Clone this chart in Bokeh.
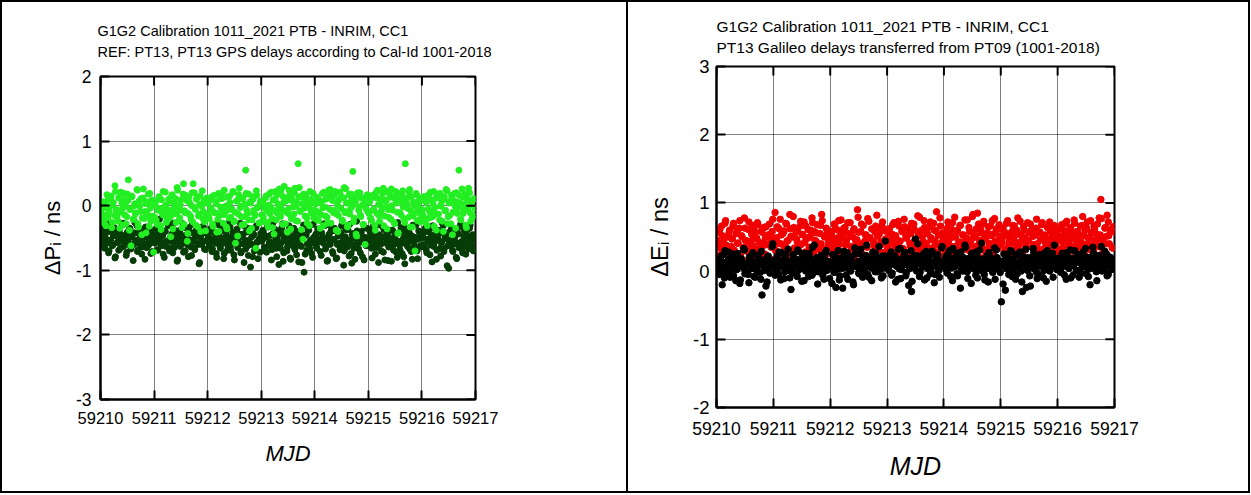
from bokeh.plotting import figure
from bokeh.layouts import row, column
from bokeh.models import (ColumnDataSource, Range1d, FixedTicker,
                          PrintfTickFormatter, Title)
from bokeh.embed import file_html
from bokeh.resources import INLINE

# ---------------- data ----------------
MJD_DAYS = [59210, 59211, 59212, 59213, 59214, 59215, 59216]
TRACK_TIMES_A = [0.01, 0.03, 0.06, 0.08, 0.10, 0.13, 0.15, 0.17, 0.20, 0.22,
                 0.24, 0.27, 0.29, 0.31, 0.34, 0.36, 0.38, 0.41, 0.43, 0.45,
                 0.48, 0.50, 0.52, 0.55, 0.57, 0.59, 0.62, 0.64, 0.66, 0.69,
                 0.71, 0.73, 0.76, 0.78, 0.80, 0.83, 0.85, 0.87, 0.90, 0.92,
                 0.94, 0.97, 0.99]
TRACK_TIMES_B = [0.02, 0.04, 0.07, 0.09, 0.12, 0.14, 0.16, 0.19, 0.21, 0.23,
                 0.26, 0.28, 0.30, 0.33, 0.35, 0.37, 0.40, 0.42, 0.44, 0.47,
                 0.49, 0.51, 0.54, 0.56, 0.58, 0.61, 0.63, 0.65, 0.68, 0.70,
                 0.72, 0.75, 0.77, 0.79, 0.82, 0.84, 0.86, 0.89, 0.91, 0.93,
                 0.96, 0.98]
MJD_TICKS = [59210, 59211, 59212, 59213, 59214, 59215, 59216, 59217]
P_TICKS = [-3, -2, -1, 0, 1, 2]
E_TICKS = [-2, -1, 0, 1, 2, 3]

# left panel: light green series (tracks A and B)
dP_light_a = [
    -0.05, -0.22, 0.02, -0.15, -0.31, 0.08, -0.12, -0.02, 0.15, -0.26, 0.05, 0.31, -0.08, -0.18, 0.12, -0.35, 0.21, -0.04, 0.09, -0.14, -0.28, 0.18, 0.40, -0.06, -0.62, 0.14, -0.21, 0.03, -0.11, 0.24, -0.33, -0.01, 0.11, -0.19, 0.26, -0.09, -0.42, 0.06, -0.16, 0.19, -0.24, 0.01, -0.72,
    -0.18, 0.07, -0.29, -0.04, 0.13, -0.37, -0.10, 0.22, -0.15, 0.01, -0.23, 0.10, -0.07, -0.48, 0.17, -0.13, 0.04, -0.26, 0.28, -0.02, -0.19, 0.09, -0.34, 0.34, -0.08, 0.16, -0.55, -0.12, 0.05, -0.21, 0.20, 0.34, -0.03, -0.30, 0.12, -0.16, 0.02, -0.40, 0.23, -0.09, -0.25, 0.08, -0.14,
    0.03, -0.20, -0.06, 0.14, -0.32, -0.11, 0.06, -0.41, 0.19, -0.15, -0.02, 0.11, -0.27, 0.24, -0.09, -0.36, 0.01, 0.15, -0.18, -0.05, 0.21, -0.24, -0.58, 0.08, -0.13, 0.27, -0.01, -0.30, 0.12, -0.17, 0.55, -0.07, 0.18, -0.39, 0.04, -0.22, 0.10, -0.12, -0.66, 0.16, -0.03, -0.26, 0.07,
    -0.14, 0.05, -0.25, 0.12, -0.08, -0.33, 0.18, -0.01, -0.20, 0.09, -0.44, 0.22, -0.11, 0.03, 0.26, -0.17, -0.05, 0.14, 0.30, -0.28, 0.08, -0.12, 0.24, -0.36, 0.11, -0.02, 0.20, -0.23, 0.06, 0.65, 0.28, -0.09, 0.13, -0.52, -0.04, 0.17, -0.19, 0.01, -0.31, 0.10, -0.07, 0.19, -0.15,
    0.02, -0.21, 0.11, -0.10, -0.35, 0.07, -0.03, 0.21, -0.16, 0.13, -0.27, 0.16, 0.25, 0.15, 0.18, -0.07, 0.22, -0.13, -0.40, 0.09, -0.04, 0.14, -0.24, 0.28, -0.11, 0.04, -0.30, 0.17, -0.06, 0.10, 0.53, -0.19, 0.06, -0.47, 0.20, -0.02, -0.14, 0.12, -0.29, 0.03, -0.60, 0.15, -0.09,
    -0.12, 0.08, -0.23, 0.16, -0.05, -0.38, 0.12, 0.24, -0.15, 0.03, -0.09, 0.19, -0.31, 0.09, -0.02, 0.22, -0.18, 0.13, 0.26, -0.07, -0.26, 0.11, 0.04, -0.43, 0.18, -0.11, 0.06, 0.23, -0.20, 0.65, 0.10, -0.04, 0.21, -0.33, 0.14, -0.16, 0.00, -0.70, 0.17, -0.08, 0.07, -0.25, 0.12,
    -0.06, 0.14, -0.20, 0.05, -0.31, 0.17, -0.10, 0.09, -0.17, 0.22, -0.03, -0.38, 0.12, -0.13, 0.19, 0.02, -0.24, 0.10, -0.08, 0.25, -0.28, 0.06, -0.15, 0.16, -0.45, 0.08, -0.01, 0.20, -0.12, 0.55, 0.04, -0.22, 0.13, -0.06, 0.18, -0.34, 0.09, 0.27, -0.11, 0.01, -0.19, 0.11, -0.04,
]
dP_light_b = [
    -0.12, 0.06, -0.27, -0.03, 0.17, -0.19, -0.08, 0.10, -0.34, 0.01, -0.15, 0.22, -0.06, -0.24, 0.13, -0.10, 0.04, -0.30, 0.19, -0.01, -0.17, 0.08, -0.38, -0.05, 0.15, -0.21, 0.00, -0.13, 0.25, -0.28, 0.07, -0.09, -0.45, 0.12, -0.20, 0.03, -0.11, 0.18, -0.32, -0.04, 0.09, -0.16,
    0.04, -0.22, -0.07, 0.14, -0.31, 0.09, -0.14, -0.02, 0.21, -0.26, -0.09, 0.06, -0.18, 0.16, -0.36, -0.04, 0.11, -0.12, 0.24, -0.23, 0.02, -0.07, 0.18, -0.29, -0.11, 0.08, -0.43, 0.13, -0.16, 0.00, -0.25, 0.20, -0.06, 0.10, -0.33, -0.13, 0.15, -0.01, -0.20, 0.07, -0.39, 0.12,
    -0.16, 0.09, -0.05, -0.28, 0.16, -0.11, 0.03, -0.21, -0.40, 0.11, -0.08, 0.20, -0.14, -0.01, -0.33, 0.13, -0.19, 0.05, -0.06, 0.22, -0.25, -0.10, 0.07, -0.47, 0.17, -0.03, -0.17, 0.10, -0.29, 0.02, 0.19, -0.12, -0.22, 0.06, -0.35, 0.14, -0.07, -0.15, 0.23, -0.02, -0.27, 0.04,
    0.07, -0.18, -0.04, 0.15, -0.26, 0.01, -0.12, 0.21, -0.34, -0.07, 0.10, -0.22, 0.17, -0.02, -0.15, 0.23, -0.29, 0.05, -0.09, 0.12, -0.41, -0.05, 0.19, -0.20, 0.08, -0.13, 0.27, -0.01, -0.24, 0.14, -0.08, -0.37, 0.03, 0.18, -0.16, 0.09, -0.27, -0.03, 0.22, -0.11, 0.06, -0.19,
    -0.08, 0.13, -0.23, 0.05, -0.14, 0.19, -0.31, -0.02, 0.10, -0.18, 0.24, -0.06, -0.27, 0.08, -0.11, 0.16, -0.38, 0.02, -0.15, 0.21, -0.04, -0.22, 0.12, -0.09, 0.26, -0.33, 0.04, -0.13, 0.18, -0.01, -0.25, 0.09, -0.44, 0.14, -0.07, 0.20, -0.17, 0.01, -0.29, 0.11, -0.05, 0.17,
    0.05, -0.19, 0.14, -0.07, -0.30, 0.20, -0.12, 0.02, -0.24, 0.11, -0.03, 0.27, -0.16, 0.07, -0.36, -0.06, 0.17, -0.21, 0.00, 0.13, -0.28, 0.22, -0.10, -0.42, 0.09, -0.14, 0.16, -0.02, -0.26, 0.12, 0.03, -0.18, 0.25, -0.08, -0.33, 0.06, -0.12, 0.19, -0.23, 0.01, 0.10, -0.15,
    -0.14, 0.08, -0.26, 0.15, -0.05, -0.19, 0.21, -0.09, 0.03, -0.32, 0.12, -0.13, 0.18, -0.22, -0.01, 0.09, -0.40, 0.14, -0.07, 0.23, -0.17, 0.04, -0.28, 0.11, -0.10, 0.19, -0.35, 0.06, -0.03, 0.16, -0.21, 0.26, -0.12, 0.02, -0.30, 0.13, -0.06, 0.20, -0.24, 0.07, -0.15, 0.10,
]
# left panel: dark green series (tracks A and B)
dP_dark_a = [
    -0.45, -0.58, -0.32, -0.66, -0.51, -0.40, -0.73, -0.55, -0.28, -0.62, -0.47, -0.81, -0.38, -0.57, -0.69, -0.44, -0.52, -0.30, -0.63, -0.49, -0.77, -0.41, -0.56, -0.35, -0.67, -0.48, -0.60, -0.26, -0.54, -0.71, -0.43, -0.59, -0.37, -0.64, -0.50, -0.83, -0.46, -0.33, -0.61, -0.53, -0.74, -0.42, -0.57,
    -0.52, -0.36, -0.68, -0.47, -0.21, -0.59, -0.44, -0.75, -0.39, -0.63, -0.55, -0.31, -0.70, -0.48, -0.57, -0.27, -0.65, -0.43, -0.86, -0.53, -0.38, -0.61, -0.46, -0.72, -0.34, -0.58, -0.50, -0.79, -0.41, -0.64, -0.29, -0.55, -0.68, -0.45, -0.37, -0.60, -0.88, -0.49, -0.56, -0.33, -0.67, -0.42, -0.54,
    -0.48, -0.62, -0.35, -0.71, -0.53, -0.42, -0.58, -0.80, -0.45, -0.30, -0.66, -0.51, -0.39, -0.74, -0.56, -0.47, -0.63, -0.25, -0.69, -0.52, -0.41, -0.84, -0.57, -0.36, -0.61, -0.49, -0.73, -0.44, -0.59, -0.32, -0.67, -0.54, -0.77, -0.40, -0.95, -0.60, -0.46, -0.70, -0.34, -0.57, -0.82, -0.50, -0.43,
    -0.55, -0.38, -0.64, -0.49, -0.72, -0.33, -0.58, -0.46, -0.68, -0.27, -0.61, -0.52, -0.79, -0.41, -0.57, -0.66, -0.35, -0.86, -0.50, -0.44, -0.70, -0.59, -0.31, -0.83, -0.54, -0.47, -0.65, -0.39, -0.76, -0.56, -0.43, -0.62, -0.88, -0.51, -1.03, -0.45, -0.69, -0.36, -0.60, -0.53, -0.74, -0.29, -0.58,
    -0.47, -0.63, -0.36, -0.56, -0.71, -0.42, -0.53, -0.28, -0.67, -0.50, -0.85, -0.44, -0.60, -0.34, -0.74, -0.52, -0.39, -0.81, -0.58, -0.46, -0.65, -0.31, -0.55, -0.70, -0.48, -0.62, -0.37, -0.78, -0.54, -0.89, -0.43, -0.66, -0.51, -0.24, -0.59, -0.45, -0.73, -0.40, -0.57, -0.84, -0.49, -0.35, -0.61,
    -0.52, -0.40, -0.66, -0.33, -0.59, -0.75, -0.45, -0.61, -0.29, -0.54, -0.70, -0.48, -0.37, -0.84, -0.57, -0.43, -0.64, -0.51, -0.86, -0.38, -0.60, -0.47, -0.72, -0.26, -0.55, -0.68, -0.41, -0.58, -0.79, -0.46, -0.35, -0.63, -0.53, -0.44, -0.71, -0.30, -0.57, -0.65, -0.49, -0.82, -0.39, -0.62, -0.50,
    -0.44, -0.60, -0.35, -0.68, -0.52, -0.41, -0.76, -0.49, -0.31, -0.63, -0.55, -0.83, -0.46, -0.38, -0.66, -0.57, -0.27, -0.71, -0.50, -0.43, -0.62, -0.97, -0.54, -0.36, -0.69, -0.48, -0.59, -0.80, -0.42, -0.65, -0.33, -0.56, -0.73, -0.47, -0.61, -0.39, -0.52, -0.67, -0.30, -0.58, -0.45, -0.64, -0.51,
]
dP_dark_b = [
    -0.50, -0.37, -0.64, -0.44, -0.58, -0.29, -0.70, -0.53, -0.41, -0.61, -0.34, -0.79, -0.47, -0.56, -0.39, -0.66, -0.51, -0.27, -0.60, -0.45, -0.72, -0.54, -0.36, -0.63, -0.48, -0.85, -0.42, -0.57, -0.31, -0.68, -0.52, -0.40, -0.75, -0.46, -0.59, -0.33, -0.65, -0.49, -0.55, -0.38, -0.71, -0.44,
    -0.58, -0.43, -0.69, -0.35, -0.54, -0.62, -0.47, -0.80, -0.40, -0.57, -0.30, -0.66, -0.50, -0.44, -0.73, -0.37, -0.59, -0.52, -0.84, -0.41, -0.63, -0.48, -0.28, -0.56, -0.70, -0.45, -0.61, -0.34, -0.53, -0.77, -0.42, -0.65, -0.49, -0.38, -0.58, -0.90, -0.46, -0.60, -0.32, -0.55, -0.68, -0.43,
    -0.46, -0.60, -0.38, -0.67, -0.51, -0.29, -0.74, -0.55, -0.43, -0.63, -0.36, -0.58, -0.82, -0.48, -0.40, -0.69, -0.53, -0.33, -0.61, -0.45, -0.76, -0.50, -0.39, -0.65, -0.57, -0.27, -0.71, -0.47, -0.88, -0.54, -0.41, -0.62, -0.35, -0.58, -0.49, -0.79, -0.44, -0.66, -0.31, -0.56, -0.52, -0.72,
    -0.53, -0.41, -0.70, -0.47, -0.32, -0.62, -0.56, -0.84, -0.44, -0.59, -0.37, -0.66, -0.50, -0.91, -0.43, -0.58, -0.28, -0.73, -0.54, -0.46, -0.64, -0.39, -0.81, -0.52, -0.60, -0.35, -0.68, -0.48, -0.57, -0.87, -0.42, -0.63, -0.51, -0.30, -0.75, -0.45, -0.59, -0.38, -0.67, -0.55, -0.80, -0.49,
    -0.44, -0.66, -0.52, -0.38, -0.77, -0.49, -0.58, -0.31, -0.63, -0.86, -0.46, -0.55, -0.40, -0.71, -0.53, -0.35, -0.82, -0.60, -0.47, -0.68, -0.42, -0.57, -0.92, -0.50, -0.37, -0.64, -0.54, -0.29, -0.74, -0.45, -0.61, -0.83, -0.48, -0.39, -0.67, -0.56, -0.43, -0.79, -0.51, -0.33, -0.62, -0.58,
    -0.57, -0.43, -0.81, -0.50, -0.36, -0.65, -0.54, -0.88, -0.45, -0.60, -0.32, -0.72, -0.49, -0.58, -0.40, -0.85, -0.53, -0.63, -0.38, -0.69, -0.47, -0.56, -0.80, -0.42, -0.61, -0.34, -0.74, -0.51, -0.90, -0.44, -0.59, -0.37, -0.67, -0.55, -0.83, -0.48, -0.62, -0.30, -0.70, -0.52, -0.41, -0.64,
    -0.49, -0.64, -0.40, -0.73, -0.55, -0.34, -0.61, -0.87, -0.46, -0.58, -0.38, -0.69, -0.52, -0.43, -0.78, -0.56, -0.31, -0.66, -0.48, -0.93, -0.53, -0.41, -0.62, -0.36, -0.71, -0.50, -0.57, -0.82, -0.44, -0.60, -0.29, -0.68, -0.54, -0.39, -0.75, -0.47, -0.63, -0.35, -0.58, -0.51, -0.70, -0.45,
]
# right panel: red series (tracks A and B)
dE_red_a = [
    0.45, 0.22, 0.61, 0.33, 0.52, 0.12, 0.70, 0.38, 0.28, 0.56, 0.05, 0.47, 0.66, 0.31, 0.19, 0.58, 0.41, 0.74, 0.26, 0.50, 0.35, 0.63, 0.15, 0.44, 0.72, 0.29, 0.54, 0.37, 0.60, 0.21, 0.48, 0.68, 0.33, 0.10, 0.57, 0.42, 0.25, 0.65, 0.39, 0.53, 0.18, 0.46, 0.76,
    0.36, 0.86, 0.49, 0.27, 0.62, 0.40, 0.15, 0.55, 0.33, 0.70, 0.44, 0.23, 0.83, 0.51, 0.30, 0.64, 0.08, 0.47, 0.58, 0.37, 0.73, 0.26, 0.53, 0.42, 0.66, 0.19, 0.49, 0.35, 0.60, 0.71, 0.28, 0.45, 0.56, 0.13, 0.39, 0.67, 0.83, 0.32, 0.50, 0.24, 0.61, 0.43, 0.55,
    0.41, 0.58, 0.20, 0.67, 0.35, 0.49, 0.74, 0.28, 0.55, 0.12, 0.63, 0.38, 0.46, 0.71, 0.24, 0.52, 0.33, 0.60, 0.17, 0.44, 0.90, 0.57, 0.31, 0.69, 0.40, 0.07, 0.53, 0.36, 0.77, 0.48, 0.22, 0.62, 0.43, 0.30, 0.66, 0.51, 0.14, 0.58, 0.39, 0.72, 0.27, 0.47, 0.61,
    0.34, 0.56, 0.45, 0.18, 0.68, 0.39, 0.52, 0.26, 0.73, 0.43, 0.10, 0.59, 0.32, 0.65, 0.48, 0.21, 0.54, 0.37, 0.70, 0.29, 0.61, 0.44, 0.15, 0.57, 0.79, 0.35, 0.50, 0.25, 0.64, 0.41, 0.55, 0.19, 0.72, 0.46, 0.31, 0.60, 0.38, 0.87, 0.53, 0.23, 0.66, 0.42, 0.49,
    0.47, 0.28, 0.63, 0.40, 0.55, 0.16, 0.71, 0.36, 0.50, 0.24, 0.60, 0.43, 0.67, 0.32, 0.53, 0.09, 0.45, 0.75, 0.38, 0.58, 0.27, 0.80, 0.49, 0.34, 0.62, 0.85, 0.41, 0.20, 0.56, 0.69, 0.30, 0.48, 0.13, 0.65, 0.37, 0.52, 0.74, 0.25, 0.44, 0.59, 0.33, 0.68, 0.46,
    0.39, 0.61, 0.26, 0.52, 0.70, 0.34, 0.47, 0.15, 0.58, 0.42, 0.66, 0.29, 0.54, 0.37, 0.73, 0.22, 0.49, 0.60, 0.31, 0.44, 0.05, 0.56, 0.69, 0.35, 0.51, 0.27, 0.63, 0.40, 0.18, 0.57, 0.46, 0.71, 0.33, 0.53, 0.24, 0.65, 0.43, 0.59, 0.12, 0.50, 0.67, 0.36, 0.55,
    0.44, 0.27, 0.62, 0.51, 0.35, 0.70, 0.20, 0.56, 0.41, 0.64, 0.30, 0.48, 0.75, 0.37, 0.58, 0.14, 0.53, 0.43, 0.67, 0.25, 0.60, 0.39, 0.72, 0.32, 0.49, 0.57, 0.22, 0.66, 0.45, 0.54, 0.36, 0.78, 1.05, 0.47, 0.29, 0.63, 0.40, 0.82, 0.52, 0.18, 0.61, 0.34, 0.58,
]
dE_red_b = [
    0.38, 0.57, 0.24, 0.66, 0.43, 0.31, 0.74, 0.50, 0.17, 0.60, 0.36, 0.48, 0.70, 0.27, 0.55, 0.41, 0.63, 0.20, 0.52, 0.34, 0.78, 0.45, 0.29, 0.61, 0.39, 0.13, 0.67, 0.47, 0.56, 0.32, 0.71, 0.42, 0.25, 0.59, 0.37, 0.64, 0.49, 0.22, 0.53, 0.69, 0.35, 0.58,
    0.48, 0.30, 0.65, 0.41, 0.76, 0.53, 0.21, 0.59, 0.37, 0.69, 0.45, 0.26, 0.62, 0.50, 0.80, 0.34, 0.57, 0.43, 0.16, 0.66, 0.39, 0.54, 0.72, 0.28, 0.47, 0.61, 0.35, 0.51, 0.78, 0.24, 0.58, 0.44, 0.68, 0.32, 0.55, 0.40, 0.74, 0.19, 0.52, 0.63, 0.36, 0.46,
    0.52, 0.33, 0.69, 0.45, 0.23, 0.60, 0.39, 0.75, 0.48, 0.28, 0.64, 0.42, 0.56, 0.18, 0.71, 0.36, 0.50, 0.62, 0.30, 0.46, 0.79, 0.40, 0.58, 0.25, 0.67, 0.44, 0.53, 0.35, 0.73, 0.49, 0.21, 0.61, 0.38, 0.57, 0.82, 0.31, 0.54, 0.43, 0.66, 0.27, 0.59, 0.47,
    0.40, 0.62, 0.29, 0.54, 0.71, 0.36, 0.48, 0.22, 0.66, 0.44, 0.58, 0.33, 0.76, 0.51, 0.27, 0.63, 0.41, 0.55, 0.19, 0.69, 0.46, 0.35, 0.81, 0.52, 0.30, 0.60, 0.43, 0.74, 0.38, 0.57, 0.24, 0.65, 0.49, 0.34, 0.70, 0.45, 0.59, 0.28, 0.53, 0.78, 0.42, 0.56,
    0.55, 0.37, 0.72, 0.46, 0.26, 0.61, 0.50, 0.79, 0.33, 0.58, 0.42, 0.67, 0.21, 0.53, 0.39, 0.75, 0.48, 0.31, 0.64, 0.44, 0.57, 0.83, 0.36, 0.52, 0.27, 0.69, 0.45, 0.60, 0.34, 0.73, 0.49, 0.18, 0.56, 0.41, 0.66, 0.30, 0.54, 0.77, 0.43, 0.62, 0.38, 0.51,
    0.44, 0.63, 0.31, 0.56, 0.74, 0.40, 0.52, 0.23, 0.67, 0.47, 0.35, 0.60, 0.78, 0.42, 0.54, 0.28, 0.65, 0.49, 0.37, 0.71, 0.45, 0.58, 0.20, 0.62, 0.39, 0.53, 0.76, 0.33, 0.57, 0.46, 0.68, 0.26, 0.50, 0.41, 0.64, 0.36, 0.72, 0.48, 0.55, 0.30, 0.61, 0.43,
    0.50, 0.32, 0.68, 0.43, 0.59, 0.25, 0.73, 0.47, 0.38, 0.62, 0.54, 0.29, 0.70, 0.45, 0.57, 0.35, 0.66, 0.41, 0.80, 0.52, 0.22, 0.63, 0.48, 0.39, 0.74, 0.56, 0.31, 0.61, 0.44, 0.69, 0.37, 0.53, 0.77, 0.46, 0.27, 0.64, 0.51, 0.72, 0.40, 0.58, 0.34, 0.65,
]
# right panel: black series (tracks A and B)
dE_black_a = [
    0.02, 0.15, -0.05, 0.22, -0.20, 0.08, 0.30, -0.02, 0.12, 0.18, -0.09, 0.05, 0.25, 0.10, -0.14, 0.03, 0.20, -0.18, 0.07, 0.14, 0.33, -0.04, 0.11, 0.01, -0.17, 0.19, 0.06, 0.27, -0.08, 0.13, 0.00, 0.23, 0.09, -0.12, -0.35, 0.16, 0.04, -0.22, 0.21, 0.08, -0.03, 0.14, 0.40,
    0.11, -0.06, 0.19, 0.04, 0.28, -0.13, 0.09, 0.16, -0.01, 0.24, 0.07, 0.13, -0.10, -0.27, 0.05, 0.21, 0.12, -0.04, 0.31, 0.02, 0.17, -0.15, 0.08, 0.26, 0.00, 0.14, -0.08, 0.20, 0.06, 0.35, -0.02, 0.10, 0.18, -0.19, 0.03, 0.22, 0.09, -0.06, 0.15, 0.27, 0.01, 0.12, -0.11,
    0.06, -0.18, 0.14, 0.23, -0.24, 0.03, 0.18, -0.07, 0.10, -0.25, 0.29, 0.05, 0.15, -0.12, 0.21, 0.00, 0.09, -0.20, 0.34, 0.07, 0.12, -0.03, 0.25, 0.04, -0.09, 0.17, 0.11, 0.38, -0.05, 0.08, 0.20, -0.14, 0.13, 0.02, 0.26, -0.01, 0.16, 0.09, -0.10, 0.22, 0.05, 0.44, 0.12,
    0.15, 0.01, 0.24, -0.06, 0.10, 0.19, -0.16, 0.07, 0.32, 0.03, -0.11, 0.18, 0.09, 0.27, -0.02, 0.13, -0.21, 0.05, -0.30, 0.20, 0.11, 0.47, 0.00, 0.16, -0.08, 0.22, 0.06, 0.14, -0.13, 0.29, 0.04, 0.17, -0.04, 0.10, 0.25, -0.17, 0.08, 0.19, 0.02, -0.09, 0.13, 0.36, 0.06,
    0.08, 0.21, -0.03, 0.14, 0.30, 0.05, -0.14, 0.18, 0.10, 0.26, -0.07, 0.12, -0.25, 0.03, 0.20, 0.09, 0.35, -0.01, 0.15, 0.06, -0.18, 0.23, 0.11, 0.02, 0.28, -0.10, 0.16, 0.07, 0.41, 0.13, -0.05, 0.19, 0.04, -0.16, 0.24, 0.09, 0.00, 0.17, -0.12, 0.31, 0.06, 0.14, -0.02,
    -0.45, 0.12, 0.25, -0.28, 0.07, 0.19, 0.02, 0.30, -0.08, 0.15, 0.05, 0.22, -0.04, 0.11, 0.28, 0.00, -0.30, 0.17, 0.09, -0.24, 0.20, 0.06, -0.22, 0.14, 0.33, 0.03, 0.18, -0.11, 0.10, 0.24, -0.06, 0.13, 0.01, 0.27, -0.15, 0.08, 0.21, 0.04, 0.16, -0.09, 0.38, 0.11, 0.02,
    0.10, 0.19, -0.02, 0.26, 0.07, 0.14, -0.12, 0.22, 0.04, 0.31, 0.09, -0.06, 0.17, 0.12, 0.01, 0.24, -0.09, 0.15, 0.06, 0.28, 0.11, -0.04, 0.20, 0.03, -0.20, 0.13, 0.35, 0.08, 0.18, -0.14, 0.05, 0.23, 0.12, 0.00, 0.16, 0.29, 0.07, -0.07, 0.21, 0.10, 0.02, 0.17, 0.05,
]
dE_black_b = [
    0.09, -0.04, 0.17, 0.03, 0.24, -0.10, 0.13, 0.06, 0.28, -0.01, 0.11, 0.20, -0.07, 0.15, 0.02, 0.26, 0.08, -0.13, 0.18, 0.05, 0.31, 0.00, 0.12, -0.05, 0.21, 0.10, 0.04, 0.25, -0.09, 0.14, 0.07, 0.19, -0.02, 0.29, 0.11, 0.01, 0.16, -0.16, 0.22, 0.06, 0.13, 0.36,
    0.16, 0.03, 0.22, -0.05, 0.12, 0.27, 0.07, -0.11, 0.19, 0.10, 0.32, 0.01, 0.14, -0.03, 0.24, 0.08, 0.17, -0.08, 0.29, 0.05, 0.13, 0.21, -0.14, 0.09, 0.18, 0.02, 0.26, 0.11, -0.06, 0.15, 0.38, 0.06, 0.20, -0.01, 0.12, 0.23, 0.04, -0.12, 0.17, 0.30, 0.08, 0.14,
    0.11, 0.24, -0.02, 0.16, 0.07, 0.30, -0.13, 0.13, 0.04, 0.21, 0.09, -0.06, 0.27, 0.15, 0.01, 0.19, -0.16, 0.10, 0.25, 0.06, 0.14, -0.04, 0.32, 0.08, 0.18, 0.00, 0.23, 0.12, -0.09, 0.17, 0.05, 0.28, 0.10, -0.01, 0.20, 0.13, 0.36, 0.03, 0.15, -0.07, 0.22, 0.09,
    0.05, 0.18, 0.28, -0.03, 0.12, 0.22, 0.08, -0.12, 0.16, 0.33, 0.02, 0.14, 0.25, -0.07, 0.10, 0.19, 0.04, 0.30, -0.15, 0.13, 0.07, 0.23, 0.40, 0.11, -0.02, 0.17, 0.06, 0.26, 0.09, -0.10, 0.20, 0.14, 0.03, 0.29, 0.12, -0.05, 0.18, 0.24, 0.01, 0.15, 0.34, 0.08,
    0.13, 0.02, 0.25, 0.09, -0.08, 0.18, 0.33, 0.06, 0.15, -0.04, 0.21, 0.11, 0.28, 0.00, 0.16, 0.38, 0.07, -0.11, 0.19, 0.12, 0.26, 0.04, 0.14, -0.06, 0.23, 0.10, 0.31, 0.01, 0.17, 0.08, -0.13, 0.22, 0.13, 0.27, 0.05, 0.18, -0.02, 0.34, 0.11, 0.20, 0.03, 0.15,
    0.08, -0.19, 0.16, 0.04, 0.23, -0.05, 0.12, 0.29, 0.02, 0.18, -0.12, 0.10, 0.25, 0.06, 0.14, -0.16, 0.21, 0.09, 0.32, 0.01, 0.15, -0.07, 0.19, 0.11, 0.27, 0.03, -0.02, 0.17, 0.07, 0.24, 0.13, -0.10, 0.20, 0.05, 0.30, 0.12, 0.00, 0.16, 0.26, 0.08, 0.19, 0.04,
    0.14, 0.03, 0.21, 0.09, -0.06, 0.17, 0.27, 0.05, 0.12, -0.10, 0.19, 0.08, 0.30, 0.01, 0.15, 0.24, -0.03, 0.11, 0.18, 0.06, 0.33, 0.13, -0.08, 0.20, 0.04, 0.16, 0.26, 0.10, -0.01, 0.22, 0.07, 0.14, 0.36, 0.02, 0.18, 0.09, 0.25, -0.05, 0.12, 0.20, 0.06, 0.15,
]

LEFT_TITLE = ["G1G2 Calibration 1011_2021 PTB - INRIM, CC1",
              "REF: PT13, PT13 GPS delays according to Cal-Id 1001-2018"]
RIGHT_TITLE = ["G1G2 Calibration 1011_2021 PTB - INRIM, CC1",
               "PT13 Galileo delays transferred from PT09 (1001-2018)"]
LEFT_YLABEL = "\u0394P\u1d62 / ns"
RIGHT_YLABEL = "\u0394E\u1d62 / ns"

mjd_a = [d + t for d in MJD_DAYS for t in TRACK_TIMES_A]
mjd_b = [d + t for d in MJD_DAYS for t in TRACK_TIMES_B]

FONT = "Liberation Sans"
TICK_PX = 9


def make_panel(cfg):
    yticks = cfg["yticks"]
    x0, x1 = MJD_TICKS[0], MJD_TICKS[-1]
    y0, y1 = yticks[0], yticks[-1]
    p = figure(x_range=Range1d(x0, x1), y_range=Range1d(y0, y1),
               frame_width=cfg["fw"], frame_height=cfg["fh"],
               min_border_left=cfg["ml"], min_border_right=cfg["mr"],
               min_border_top=cfg["mt"], min_border_bottom=cfg["mb"],
               output_backend="svg", toolbar_location=None,
               background_fill_color="white", border_fill_color="white",
               styles=cfg["styles"])
    p.outline_line_color = "black"
    p.outline_line_width = 2

    xt = FixedTicker(ticks=MJD_TICKS)
    yt = FixedTicker(ticks=yticks)
    fmt = PrintfTickFormatter(format="%d")

    for ax in (p.xaxis[0], p.yaxis[0]):
        ax.major_tick_in = TICK_PX
        ax.major_tick_out = 0
        ax.minor_tick_line_color = None
        ax.axis_line_width = 2
        ax.major_tick_line_width = 2
        ax.major_label_text_font = FONT
        ax.major_label_text_color = "black"
        ax.axis_label_text_font = FONT
        ax.axis_label_text_color = "black"
        ax.formatter = fmt
    xa, ya = p.xaxis[0], p.yaxis[0]
    xa.ticker = xt
    ya.ticker = yt
    xa.major_label_text_font_size = cfg["xtick_fs"]
    ya.major_label_text_font_size = cfg["ytick_fs"]
    xa.major_label_standoff = cfg["xstand"]
    ya.major_label_standoff = cfg["ystand"]
    xa.axis_label = "MJD"
    xa.axis_label_text_font_style = "italic"
    xa.axis_label_text_font_size = cfg["mjd_fs"]
    xa.axis_label_standoff = cfg["mjd_stand"]
    ya.axis_label = cfg["ylabel"]
    ya.axis_label_text_font_style = "normal"
    ya.axis_label_text_font_size = cfg["ylab_fs"]
    ya.axis_label_standoff = cfg["ylab_stand"]

    p.xgrid.ticker = xt
    p.ygrid.ticker = yt
    for g in (p.xgrid[0], p.ygrid[0]):
        g.grid_line_color = "black"
        g.grid_line_dash = "1 1"
        g.grid_line_width = 1

    for xs, ys, color, size in cfg["series"]:
        src = ColumnDataSource(dict(x=xs, y=ys))
        p.scatter("x", "y", source=src, marker="circle", size=size,
                  fill_color=color, line_color=color)

    # inward ticks on the top and right frame edges
    dy = TICK_PX / cfg["fh"] * (y1 - y0)
    dx = TICK_PX / cfg["fw"] * (x1 - x0)
    p.segment(x0=MJD_TICKS, y0=[y1] * len(MJD_TICKS), x1=MJD_TICKS,
              y1=[y1 - dy] * len(MJD_TICKS), line_color="black", line_width=2)
    p.segment(x0=[x1] * len(yticks), y0=yticks, x1=[x1 - dx] * len(yticks),
              y1=yticks, line_color="black", line_width=2)

    p.add_layout(Title(text="\n".join(cfg["title"]), align="left", offset=cfg["title_off"],
                       text_font=FONT, text_font_size=cfg["title_fs"],
                       text_font_style="normal", text_color="black",
                       text_line_height=cfg["title_lh"], standoff=cfg["t_stand"]), "above")
    return p


left = make_panel(dict(
    yticks=P_TICKS, fw=371, fh=319, ml=98, mr=155, mt=74, mb=96,
    styles={"border": "2px solid black"},
    xtick_fs="16.5px", ytick_fs="17.5px", xstand=12, ystand=9, mjd_fs="22px", mjd_stand=14,
    ylabel=LEFT_YLABEL, ylab_fs="22px", ylab_stand=8,
    series=[(mjd_a, dP_dark_a, "#063c06", 6), (mjd_b, dP_dark_b, "#063c06", 6),
            (mjd_a, dP_light_a, "#22ee22", 6), (mjd_b, dP_light_b, "#22ee22", 6)],
    title=LEFT_TITLE, title_off=-3, title_fs="14.5px", title_lh=1.3, t_stand=33,
))

right = make_panel(dict(
    yticks=E_TICKS, fw=396, fh=337, ml=88, mr=136, mt=64, mb=88,
    styles={"border-top": "2px solid black", "border-right": "2px solid black",
            "border-bottom": "2px solid black"},
    xtick_fs="17.5px", ytick_fs="18.5px", xstand=14, ystand=7, mjd_fs="25px", mjd_stand=14,
    ylabel=RIGHT_YLABEL, ylab_fs="23.5px", ylab_stand=17,
    series=[(mjd_a, dE_red_a, "#f00000", 6.5), (mjd_b, dE_red_b, "#f00000", 6.5),
            (mjd_a, dE_black_a, "#000000", 6.5), (mjd_b, dE_black_b, "#000000", 6.5)],
    title=RIGHT_TITLE, title_off=0, title_fs="15.5px", title_lh=1.24, t_stand=21,
))

layout = row(column(left), column(right), spacing=0)
open("out.html", "w").write(file_html(layout, INLINE))
